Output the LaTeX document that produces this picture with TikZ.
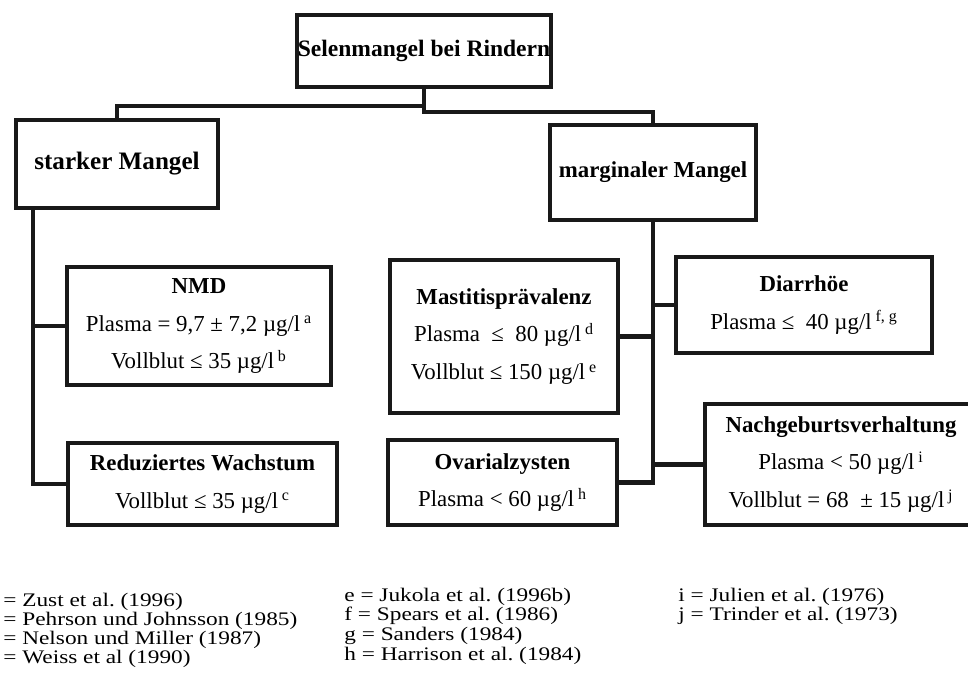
\documentclass[tikz,border=0pt]{standalone}
\usepackage{fontspec}
\usepackage{graphicx}
\setmainfont{Liberation Serif}
\usetikzlibrary{calc}
\frenchspacing

\tikzset{
  box/.style={draw=black!90, line width=2.3pt, inner sep=0pt, align=center,
    font=\fontsize{13}{21.5}\selectfont},
  sz/.style 2 args={minimum width=#1*0.02cm, minimum height=#2*0.02cm},
  conn/.style={draw=black!90, line width=2.3pt, line cap=rect},
  ref/.style={anchor=west, inner sep=0pt, font=\fontsize{13}{15}\selectfont}
}
\newcommand{\reftext}[1]{\scalebox{1.02}[0.84]{#1}}

\begin{document}
\begin{tikzpicture}[x=0.02cm, y=-0.02cm]
  \clip (0,0) rectangle (968,693);
  \fill[white] (0,0) rectangle (968,693);
  % Kopf und erste Ebene
  \node[box, sz={254}{72}, font=\fontsize{13.4}{16}\selectfont] (root) at (424,51) {\textbf{Selenmangel bei Rindern}};
  \node[box, sz={202}{88}, font=\fontsize{14.3}{17}\selectfont] (starker) at (117,164) {\textbf{starker Mangel}};
  \node[box, sz={206}{95}] (marg) at (653,172.5) {\textbf{marginaler Mangel}};
  % starker Mangel
  \node[box, sz={264}{118}] (nmd) at (199,326)
    {\textbf{NMD}\\Plasma = 9,7 ± 7,2 µg/l\,\textsuperscript{a}\\Vollblut ≤ 35 µg/l\,\textsuperscript{b}};
  \node[box, sz={269}{82}] (red) at (202.5,484)
    {\textbf{Reduziertes Wachstum}\\Vollblut ≤ 35 µg/l\,\textsuperscript{c}};
  % marginaler Mangel
  \node[box, sz={228}{153}] (mast) at (504,336.5)
    {\textbf{Mastitisprävalenz}\\Plasma\ \ ≤\ \ 80 µg/l\,\textsuperscript{d}\\Vollblut ≤ 150 µg/l\,\textsuperscript{e}};
  \node[box, sz={256}{96}] (diar) at (804,305)
    {\textbf{Diarrhöe}\\Plasma ≤\ \ 40 µg/l\,\textsuperscript{f, g}};
  \node[box, sz={229}{85}] (ovar) at (502.5,482.5)
    {\textbf{Ovarialzysten}\\Plasma < 60 µg/l\,\textsuperscript{h}};
  \node[box, sz={272}{121}] (nach) at (841,464.5)
    {\textbf{Nachgeburtsverhaltung}\\Plasma < 50 µg/l\,\textsuperscript{i}\\Vollblut = 68\ \ ± 15 µg/l\,\textsuperscript{j}};
  % Verbindungen
  \coordinate (jl) at (424,106);
  \coordinate (jr) at (424,112);
  \draw[conn] (root.south) -- (jr) -| (marg.north);
  \draw[conn] (jl) -| (starker.north);
  \coordinate (sl) at ($(starker.south west)+(19,0)$);
  \draw[conn] (sl) |- (nmd.west);
  \draw[conn] (sl) |- (red.west);
  \draw[conn] (marg.south) |- (diar.west);
  \draw[conn] (marg.south) |- (mast.east);
  \draw[conn] (marg.south) |- (nach.west);
  \draw[conn] (marg.south) |- (ovar.east);
  % Literatur
  \node[ref] (ra) at (3,602) {\reftext{= Zust et al. (1996)}};
  \node[ref] (rb) at (3,621) {\reftext{= Pehrson und Johnsson (1985)}};
  \node[ref] (rc) at (3,640) {\reftext{= Nelson und Miller (1987)}};
  \node[ref] (rd) at (3,659) {\reftext{= Weiss et al (1990)}};
  \node[ref] (re) at (344,597) {\reftext{e = Jukola et al. (1996b)}};
  \node[ref] (rf) at (344,616) {\reftext{f = Spears et al. (1986)}};
  \node[ref] (rg) at (344,636) {\reftext{g = Sanders (1984)}};
  \node[ref] (rh) at (344,656) {\reftext{h = Harrison et al. (1984)}};
  \node[ref] (ri) at (678,597) {\reftext{i = Julien et al. (1976)}};
  \node[ref] (rj) at (678,616) {\reftext{j = Trinder et al. (1973)}};
\end{tikzpicture}
\end{document}
